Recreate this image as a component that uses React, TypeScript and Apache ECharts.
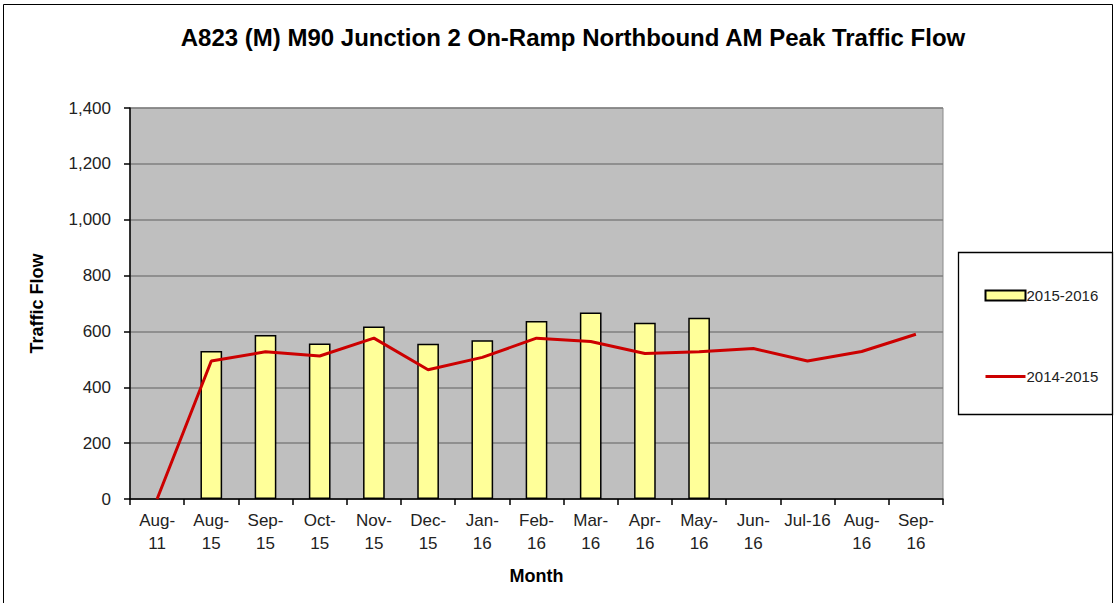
import React, { useEffect, useRef } from "react";
import * as echarts from "echarts";

const months = ["Aug-\n11", "Aug-\n15", "Sep-\n15", "Oct-\n15", "Nov-\n15", "Dec-\n15", "Jan-\n16", "Feb-\n16", "Mar-\n16", "Apr-\n16", "May-\n16", "Jun-\n16", "Jul-16", "Aug-\n16", "Sep-\n16"];
const flow2015_2016 = [null, 530, 587, 557, 618, 556, 568, 637, 668, 631, 649, null, null, null, null];
const flow2014_2015 = [0, 494, 527, 512, 576, 463, 507, 576, 564, 521, 527, 539, 494, 528, 590];

const FONT = "'Liberation Sans', Arial, sans-serif";

export default function App() {
  const ref = useRef<HTMLDivElement>(null);
  useEffect(() => {
    document.body.style.margin = "0";
    const chart = echarts.init(ref.current!, null, { renderer: "svg" });
    chart.setOption({
      animation: false,
      backgroundColor: "#ffffff",
      title: {
        text: "A823 (M) M90 Junction 2 On-Ramp Northbound AM Peak Traffic Flow",
        left: 568,
        top: 20,
        textAlign: "center",
        textStyle: { fontFamily: FONT, fontSize: 24, fontWeight: "bold", color: "#000" },
      },
      graphic: [
        { type: "rect", shape: { x: 3.5, y: 4.5, width: 1109, height: 620 }, style: { fill: "none", stroke: "#000", lineWidth: 1 }, silent: true },
        { type: "rect", shape: { x: 958.5, y: 252.5, width: 154, height: 162 }, style: { fill: "#fff", stroke: "#000", lineWidth: 1.3 }, silent: true, z: -1 },
      ],
      legend: {
        left: 979,
        top: 283,
        orient: "vertical",
        itemGap: 66,
        itemWidth: 40,
        itemHeight: 10,
        textStyle: { fontFamily: FONT, fontSize: 15, color: "#222", padding: [0, 0, 0, -4] },
        data: [
          { name: "2015-2016", icon: "rect" },
          { name: "2014-2015", lineStyle: { width: 3, color: "#cc0000" }, itemStyle: { color: "rgba(0,0,0,0)", borderWidth: 0, borderColor: "rgba(0,0,0,0)" } },
        ],
      },
      grid: { left: 130, right: 174, top: 108, bottom: 104, show: true, backgroundColor: "#bfbfbf", borderColor: "#8a8a8a", borderWidth: 1 },
      xAxis: {
        type: "category",
        data: months,
        boundaryGap: true,
        name: "Month",
        nameLocation: "middle",
        nameGap: 68,
        nameTextStyle: { fontFamily: FONT, fontSize: 18, fontWeight: "bold", color: "#000" },
        axisLine: { lineStyle: { color: "#000", width: 1.5 } },
        axisTick: { show: true, alignWithLabel: false, length: 6, lineStyle: { color: "#000", width: 1.5 } },
        axisLabel: { fontFamily: FONT, fontSize: 17, color: "#222", margin: 10, lineHeight: 23, interval: 0 },
      },
      yAxis: {
        type: "value",
        min: 0,
        max: 1400,
        interval: 200,
        name: "Traffic Flow",
        nameLocation: "middle",
        nameGap: 84,
        nameTextStyle: { fontFamily: FONT, fontSize: 18, fontWeight: "bold", color: "#000" },
        axisLine: { show: true, lineStyle: { color: "#000", width: 1.5 } },
        axisTick: { show: true, length: 6, lineStyle: { color: "#000", width: 1.5 } },
        axisLabel: {
          fontFamily: FONT, fontSize: 17, color: "#222", margin: 19,
          formatter: (v: number) => v.toLocaleString("en-US"),
        },
        splitLine: { lineStyle: { color: "#7f7f7f", width: 1.5 } },
      },
      series: [
        {
          name: "2015-2016",
          type: "bar",
          data: flow2015_2016,
          barWidth: "40%",
          itemStyle: { color: "#ffff99", borderColor: "#000", borderWidth: 1.5 },
        },
        {
          name: "2014-2015",
          type: "line",
          data: flow2014_2015,
          symbol: "none",
          lineStyle: { color: "#cc0000", width: 3 },
          itemStyle: { color: "#cc0000" },
        },
      ],
    });
    return () => chart.dispose();
  }, []);
  return <div ref={ref} style={{ width: 1117, height: 603 }} />;
}
